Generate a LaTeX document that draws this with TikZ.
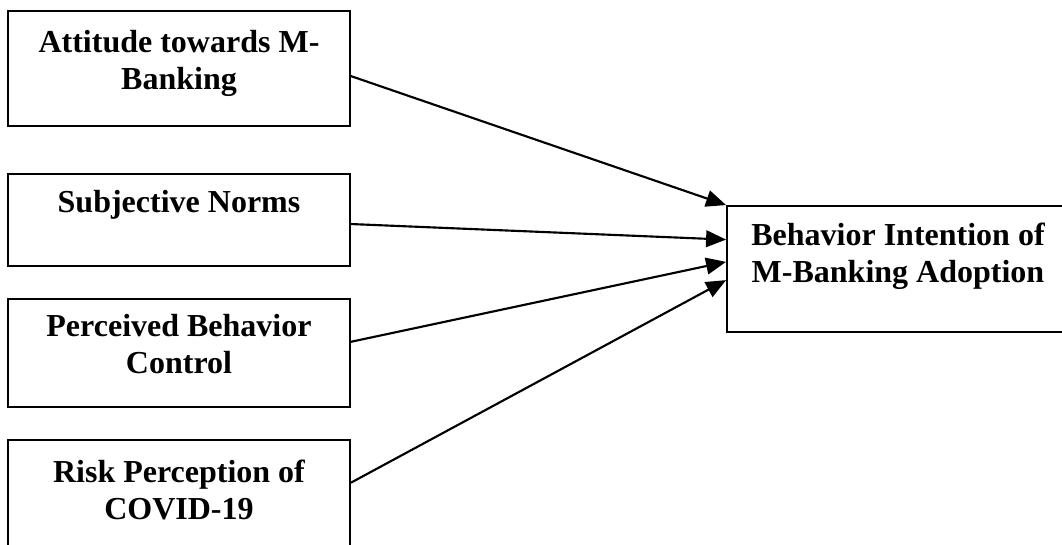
\documentclass[tikz,border=0pt]{standalone}
\usepackage{amsmath}
\usepackage{fontspec}
\setmainfont{Liberation Serif}
\usetikzlibrary{calc,positioning,arrows.meta}

\tikzset{
  varbox/.style={draw, line width=1.4pt, minimum width=256.5pt, inner sep=0pt},
  vartext/.style={align=center, inner sep=0pt, font=\bfseries\fontsize{24}{27.75}\selectfont},
  link/.style={line width=1.6pt, -{Triangle[length=15pt,width=12.5pt]}}
}

\begin{document}
\begin{tikzpicture}[x=0.75pt,y=0.75pt,yscale=-1,xscale=1]
\useasboundingbox (0,0) rectangle (1062,545);
\clip (0,0) rectangle (1062,545);
%Shape: Rectangle [id:att]
\node [varbox, minimum height=86.25pt] (att) at (179,68.5) {};
\node [vartext, below=15pt of att.north] (attT) {Attitude towards M-\\Banking};
%Shape: Rectangle [id:sn]
\node [varbox, minimum height=69pt] (sn) at (179,220) {};
\node [vartext, below=12.75pt of sn.north] (snT) {Subjective Norms};
%Shape: Rectangle [id:pbc]
\node [varbox, minimum height=81pt] (pbc) at (179,353) {};
\node [vartext, below=12pt of pbc.north] (pbcT) {Perceived Behavior\\Control};
%Shape: Rectangle [id:risk]
\node [varbox, minimum height=82.5pt] (risk) at (179,495) {};
\node [vartext, below=15.75pt of risk.north] (riskT) {Risk Perception of\\COVID-19};
%Shape: Rectangle [id:bi]
\node [varbox, minimum height=94.5pt] (bi) at (898,269) {};
\node [vartext, below=13.5pt of bi.north] (biT) {Behavior Intention of\\M-Banking Adoption};
%Straight Lines
\draw [link] ($(att.north east)!0.565!(att.south east)$) -- (bi.north west);
\draw [link] ($(sn.north east)!0.543!(sn.south east)$) -- ($(bi.north west)!0.27!(bi.south west)$);
\draw [link] ($(pbc.north east)!0.398!(pbc.south east)$) -- ($(bi.north west)!0.444!(bi.south west)$);
\draw [link] ($(risk.north east)!0.39!(risk.south east)$) -- ($(bi.north west)!0.587!(bi.south west)$);
\end{tikzpicture}
\end{document}
